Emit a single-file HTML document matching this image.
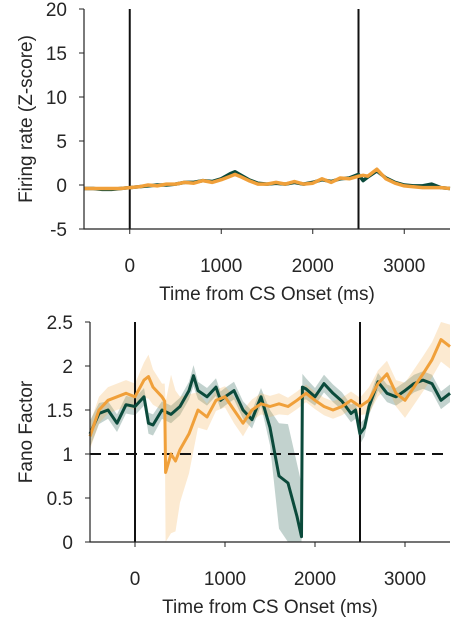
<!DOCTYPE html>
<html><head><meta charset="utf-8"><style>
body{margin:0;background:#fff;}
svg text{font-family:"Liberation Sans",sans-serif;fill:#262626;}
</style></head><body>
<svg id="c" width="469" height="625"></svg>
<script>
const topTime=[-500,-400,-300,-200,-100,0,100,200,300,400,500,600,700,800,900,1000,1100,1150,1200,1300,1400,1500,1600,1700,1800,1900,2000,2100,2200,2300,2400,2500,2550,2600,2700,2800,2900,3000,3100,3200,3300,3400,3500];
const topGreen=[-0.4,-0.4,-0.5,-0.5,-0.4,-0.3,-0.2,-0.1,0,0,0.1,0.3,0.3,0.5,0.4,0.7,1.3,1.5,1.2,0.6,0.2,0.1,0.2,0.1,0.3,0.1,0.3,0.6,0.4,0.7,0.8,1.2,0.5,0.9,1.6,0.8,0.3,0,-0.1,-0.1,0.1,-0.3,-0.4];
const topOrange=[-0.4,-0.4,-0.4,-0.4,-0.4,-0.3,-0.2,0,-0.1,0.1,0.1,0.3,0.2,0.5,0.3,0.6,1.0,1.2,1.0,0.5,0.1,0.1,0.3,0.1,0.4,0.1,0.2,0.7,0.3,0.8,0.7,1.0,1.1,1.0,1.8,0.7,0.2,-0.1,-0.2,-0.3,-0.3,-0.3,-0.4];
const botTime=[-500,-400,-300,-200,-100,0,100,150,200,300,400,500,600,650,700,800,900,950,1000,1100,1200,1300,1400,1500,1600,1700,1800,1850,1860,1900,2000,2100,2200,2300,2400,2450,2500,2550,2600,2700,2800,2900,3000,3100,3200,3300,3400,3500];
const fanoGreen=[1.23,1.46,1.5,1.35,1.56,1.54,1.65,1.35,1.33,1.5,1.45,1.54,1.72,1.89,1.72,1.65,1.76,1.61,1.65,1.72,1.5,1.39,1.65,1.3,0.75,0.67,0.29,0.06,1.76,1.74,1.65,1.8,1.69,1.6,1.46,1.5,1.23,1.3,1.54,1.82,1.69,1.65,1.72,1.8,1.84,1.8,1.61,1.69];
const greenErr=[0.15,0.12,0.1,0.1,0.1,0.1,0.1,0.12,0.12,0.1,0.1,0.1,0.1,0.12,0.1,0.1,0.1,0.1,0.1,0.1,0.1,0.1,0.1,0.2,0.6,0.67,0.6,0.6,0.15,0.12,0.1,0.1,0.1,0.1,0.1,0.1,0.12,0.1,0.1,0.1,0.1,0.1,0.1,0.1,0.1,0.1,0.1,0.1];
const orangeTime=[-500,-400,-300,-200,-100,0,100,150,200,300,330,340,400,450,500,600,700,800,900,1000,1100,1200,1300,1400,1500,1600,1700,1800,1900,2000,2100,2200,2300,2400,2500,2600,2700,2800,2900,3000,3100,3200,3300,3400,3500];
const fanoOrange=[1.2,1.5,1.61,1.65,1.69,1.65,1.84,1.88,1.76,1.65,1.6,0.79,1.0,0.92,1.05,1.23,1.5,1.42,1.61,1.65,1.5,1.35,1.5,1.57,1.54,1.57,1.54,1.61,1.69,1.61,1.54,1.5,1.54,1.61,1.54,1.61,1.8,1.91,1.69,1.61,1.76,1.91,2.07,2.3,2.22];
const orangeErr=[0.15,0.15,0.15,0.15,0.15,0.15,0.2,0.25,0.2,0.15,0.2,0.8,0.9,0.8,0.6,0.45,0.2,0.15,0.12,0.12,0.15,0.15,0.12,0.12,0.12,0.12,0.1,0.1,0.1,0.1,0.1,0.1,0.1,0.1,0.1,0.15,0.15,0.15,0.15,0.2,0.2,0.2,0.2,0.25,0.25];
const xTicks=[0,1000,2000,3000];
const topYTicks=[-5,0,5,10,15,20];
const botYTicks=[0,0.5,1,1.5,2,2.5];
const botYLabels=["0","0.5","1","1.5","2","2.5"];

const NS="http://www.w3.org/2000/svg";
const svg=document.getElementById('c');
function mk(tag,attrs,parent){const e=document.createElementNS(NS,tag);for(const k in attrs)e.setAttribute(k,attrs[k]);(parent||svg).appendChild(e);return e;}
const GREEN="#0b4a3b",ORANGE="#f0a03a";

function panel(p){
  const sx=t=>p.x0+(t+500)/4000*(p.x1-p.x0);
  const sy=v=>p.y0-(v-p.vmin)/(p.vmax-p.vmin)*(p.y0-p.y1);
  const g=mk('g',{});
  
  
  return {sx,sy,g};
}
function line(g,xs,ys,sx,sy,color,name,w){
  const d=xs.map((t,i)=>(i?'L':'M')+sx(t).toFixed(1)+','+sy(ys[i]).toFixed(1)).join('');
  const e=mk('path',{d:d,fill:'none',stroke:color,'stroke-width':w||3,'stroke-linejoin':'round'},g);
  
  
}
function band(g,xs,ys,err,sx,sy,color,name){
  let d=xs.map((t,i)=>(i?'L':'M')+sx(t).toFixed(1)+','+sy(Math.min(2.5,ys[i]+err[i])).toFixed(1)).join('');
  for(let i=xs.length-1;i>=0;i--)d+='L'+sx(xs[i]).toFixed(1)+','+sy(Math.max(0,ys[i]-err[i])).toFixed(1);
  const e=mk('path',{d:d+'Z',fill:color,stroke:'none'},g);
  
  
}
function axes(P,p,yt,ylabels,ytitle){
  const {sx,sy,g}=P;
  const ax=mk('path',{d:`M${p.x0},${p.y1}V${p.y0}H${p.x1}`,fill:'none',stroke:'#222','stroke-width':1.2},g);
  
  xTicks.forEach(t=>{
    mk('line',{x1:sx(t),x2:sx(t),y1:p.y0,y2:p.y0+5,stroke:'#222'},g);
    const tx=mk('text',{x:sx(t),y:p.y0+43,'text-anchor':'middle','font-size':19},g);tx.textContent=t;
    
  });
  yt.forEach((v,i)=>{
    mk('line',{x1:p.x0-5,x2:p.x0,y1:sy(v),y2:sy(v),stroke:'#222'},g);
    const tx=mk('text',{x:p.x0-17,y:sy(v)+7,'text-anchor':'end','font-size':19},g);tx.textContent=ylabels[i];
    
  });
  const xt=mk('text',{x:(p.x0+p.x1)/2,y:p.y0+71,'text-anchor':'middle','font-size':19},g);xt.textContent='Time from CS Onset (ms)';
  
  const yl=mk('text',{x:0,y:0,'text-anchor':'middle','font-size':19,transform:`translate(${p.ytx},${(p.y0+p.y1)/2}) rotate(-90)`},g);yl.textContent=ytitle;
  
}
function vlines(P,p){
  [0,2500].forEach(t=>{const l=mk('line',{x1:P.sx(t),x2:P.sx(t),y1:p.y1,y2:p.y0,stroke:'#111','stroke-width':2},P.g);
  });
}
// top
const p1={name:'firing-rate-panel',x0:84,x1:450,y0:229,y1:9,vmin:-5,vmax:20,ytx:32};
const P1=panel(p1);
vlines(P1,p1);
line(P1.g,topTime,topGreen,P1.sx,P1.sy,GREEN,'series-green',3.5);
line(P1.g,topTime,topOrange,P1.sx,P1.sy,ORANGE,'series-orange',3.5);
axes(P1,p1,topYTicks,topYTicks.map(String),'Firing rate (Z-score)');
// bottom
const p2={name:'fano-factor-panel',x0:90,x1:450,y0:542,y1:322,vmin:0,vmax:2.5,ytx:32};
const P2=panel(p2);
band(P2.g,botTime,fanoGreen,greenErr,P2.sx,P2.sy,'rgba(11,74,59,0.25)','band-green');
band(P2.g,orangeTime,fanoOrange,orangeErr,P2.sx,P2.sy,'rgba(245,170,70,0.25)','band-orange');
const dl=mk('line',{x1:p2.x0,x2:p2.x1,y1:P2.sy(1),y2:P2.sy(1),stroke:'#111','stroke-width':2,'stroke-dasharray':'11,7'},P2.g);

vlines(P2,p2);
line(P2.g,botTime,fanoGreen,P2.sx,P2.sy,GREEN,'series-green',3);
line(P2.g,orangeTime,fanoOrange,P2.sx,P2.sy,ORANGE,'series-orange',3);
axes(P2,p2,botYTicks,botYLabels,'Fano Factor');
</script>
</body></html>
